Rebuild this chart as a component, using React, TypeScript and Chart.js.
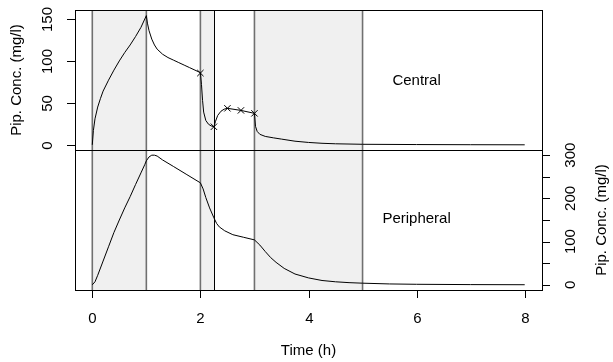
import React, { useEffect, useRef } from "react";
import { Chart, registerables } from "chart.js";

Chart.register(...registerables);

// ---- Data ----
const centralTime = [0, 0.02, 0.05, 0.1, 0.15, 0.2, 0.3, 0.4, 0.5, 0.6, 0.7, 0.8, 0.9, 1.0,
  1.02, 1.05, 1.1, 1.15, 1.2, 1.3, 1.4, 1.5, 1.6, 1.7, 1.8, 1.9, 2.0,
  2.02, 2.04, 2.06, 2.1, 2.15, 2.2, 2.25, 2.28, 2.32, 2.38, 2.44, 2.5, 2.75, 3.0,
  3.02, 3.05, 3.1, 3.2, 3.35, 3.5, 3.75, 4.0, 4.25, 4.5, 5.0, 6.0, 7.0, 8.0];
const centralConc = [0, 17, 31, 45, 55, 64, 77, 89, 100, 110, 119, 129, 140, 154,
  145, 136, 126, 119, 114, 108, 104, 101, 98, 95, 92, 89, 86,
  72, 53, 39, 29, 24.5, 22.5, 21.5, 28, 35, 40, 42.5, 43.5, 41, 37.5,
  22, 16, 12.5, 10, 8.3, 6.8, 4.3, 2.8, 1.8, 1.2, 0.6, 0.3, 0.1, 0];

const periphTime = [0, 0.05, 0.1, 0.2, 0.3, 0.4, 0.5, 0.6, 0.7, 0.8, 0.9, 0.97, 1.0, 1.05, 1.1, 1.15, 1.2, 1.3,
  1.5, 1.75, 2.0, 2.05, 2.1, 2.17, 2.25, 2.3, 2.35, 2.45, 2.6, 2.8, 3.0,
  3.1, 3.2, 3.3, 3.4, 3.55, 3.75, 4.0, 4.25, 4.5, 4.75, 5.0, 5.5, 6.0, 7.0, 8.0];
const periphConc = [0, 7, 22, 55, 88, 121, 150, 178, 204, 232, 259, 278, 287, 296, 300, 300, 298, 289,
  274, 255, 236, 222, 202, 178, 155, 142, 134, 125, 116, 110, 104,
  92, 77, 63, 52, 38, 25, 16, 10, 7, 5, 3.8, 2, 1.2, 0.5, 0.2];

const sampleTime = [2, 2.25, 2.5, 2.75, 3];
const sampleConc = [85.5, 21.5, 43.5, 41, 37.5];

const xTicks = [0, 2, 4, 6, 8];
const centralTicks = [0, 50, 100, 150];
const periphTicks = [0, 50, 100, 150, 200, 250, 300];
const periphLabelTicks = [0, 100, 200, 300];

const shadedPeriods = [[0, 1], [2, 2.25], [3, 5]];
const grayLines = [0, 1, 2, 3, 5];
const blackLines = [2.25];

const xRange = [-0.32, 8.32];
const centralRange = [-6.2, 160.7];
const periphRange = [-12, 312];

const centralText = { x: 6, y: 76, label: "Central" };
const periphText = { x: 6, y: 152, label: "Peripheral" };

const FONT = "15px 'Liberation Sans', Arial, Helvetica, sans-serif";

const decorPlugin = {
  id: "decor",
  beforeDatasetsDraw(chart: any) {
    const { ctx, chartArea: a, scales } = chart;
    const xs = scales.x;
    const yc = scales.yc;
    ctx.save();
    ctx.fillStyle = "#f0f0f0";
    shadedPeriods.forEach(([s, e]) => {
      const x1 = xs.getPixelForValue(s);
      const x2 = xs.getPixelForValue(e);
      ctx.fillRect(x1, a.top, x2 - x1, a.bottom - a.top);
    });
    ctx.strokeStyle = "#707070";
    ctx.lineWidth = 1.6;
    grayLines.forEach((v) => {
      const x = xs.getPixelForValue(v);
      ctx.beginPath();
      ctx.moveTo(x, a.top);
      ctx.lineTo(x, a.bottom);
      ctx.stroke();
    });
    ctx.strokeStyle = "#000";
    ctx.lineWidth = 1;
    blackLines.forEach((v) => {
      const x = Math.round(xs.getPixelForValue(v)) + 0.5;
      ctx.beginPath();
      ctx.moveTo(x, a.top);
      ctx.lineTo(x, a.bottom);
      ctx.stroke();
    });
    const yd = Math.round(yc.getPixelForValue(centralRange[0])) + 0.5;
    ctx.beginPath();
    ctx.moveTo(a.left, yd);
    ctx.lineTo(a.right, yd);
    ctx.stroke();
    ctx.restore();
  },
  afterDatasetsDraw(chart: any) {
    const { ctx, chartArea: a, scales } = chart;
    const xs = scales.x;
    const yc = scales.yc;
    const yp = scales.yp;
    const tl = 8;
    ctx.save();
    ctx.strokeStyle = "#000";
    ctx.lineWidth = 1;
    ctx.strokeRect(Math.round(a.left) + 0.5, Math.round(a.top) + 0.5,
      Math.round(a.right - a.left), Math.round(a.bottom - a.top));
    ctx.fillStyle = "#000";
    ctx.font = FONT;
    ctx.textAlign = "center";
    ctx.textBaseline = "middle";
    // x axis
    xTicks.forEach((v) => {
      const x = Math.round(xs.getPixelForValue(v)) + 0.5;
      ctx.beginPath();
      ctx.moveTo(x, a.bottom);
      ctx.lineTo(x, a.bottom + tl);
      ctx.stroke();
      ctx.fillText(String(v), x, a.bottom + 29);
    });
    ctx.fillText("Time (h)", (a.left + a.right) / 2, a.bottom + 61);
    // left axis (central)
    centralTicks.forEach((v) => {
      const y = Math.round(yc.getPixelForValue(v)) + 0.5;
      ctx.beginPath();
      ctx.moveTo(a.left, y);
      ctx.lineTo(a.left - tl, y);
      ctx.stroke();
      ctx.save();
      ctx.translate(a.left - 27, y);
      ctx.rotate(-Math.PI / 2);
      ctx.fillText(String(v), 0, 0);
      ctx.restore();
    });
    const divY = yc.getPixelForValue(centralRange[0]);
    ctx.save();
    ctx.translate(a.left - 58, (a.top + divY) / 2);
    ctx.rotate(-Math.PI / 2);
    ctx.fillText("Pip. Conc. (mg/l)", 0, 0);
    ctx.restore();
    // right axis (peripheral)
    periphTicks.forEach((v) => {
      const y = Math.round(yp.getPixelForValue(v)) + 0.5;
      ctx.beginPath();
      ctx.moveTo(a.right, y);
      ctx.lineTo(a.right + tl, y);
      ctx.stroke();
    });
    periphLabelTicks.forEach((v) => {
      const y = yp.getPixelForValue(v);
      ctx.save();
      ctx.translate(a.right + 29, y);
      ctx.rotate(-Math.PI / 2);
      ctx.fillText(String(v), 0, 0);
      ctx.restore();
    });
    ctx.save();
    ctx.translate(a.right + 60, (divY + a.bottom) / 2);
    ctx.rotate(-Math.PI / 2);
    ctx.fillText("Pip. Conc. (mg/l)", 0, 0);
    ctx.restore();
    // panel labels
    ctx.fillText(centralText.label, xs.getPixelForValue(centralText.x), yc.getPixelForValue(centralText.y));
    ctx.fillText(periphText.label, xs.getPixelForValue(periphText.x), yp.getPixelForValue(periphText.y));
    ctx.restore();
  },
};

export default function App() {
  const ref = useRef<HTMLCanvasElement | null>(null);
  useEffect(() => {
    document.body.style.margin = "0";
    const cSpan = centralRange[1] - centralRange[0];
    const pSpan = periphRange[1] - periphRange[0];
    const chart = new Chart(ref.current as HTMLCanvasElement, {
      type: "line",
      data: {
        datasets: [
          {
            label: "Central",
            data: centralTime.map((t, i) => ({ x: t, y: centralConc[i] })),
            xAxisID: "x",
            yAxisID: "yc",
            borderColor: "#000",
            borderWidth: 1,
            pointRadius: 0,
            tension: 0,
            fill: false,
          },
          {
            label: "Samples",
            data: sampleTime.map((t, i) => ({ x: t, y: sampleConc[i] })),
            xAxisID: "x",
            yAxisID: "yc",
            showLine: false,
            pointStyle: "crossRot",
            pointRadius: 4.5,
            borderColor: "#000",
            backgroundColor: "#000",
            pointBorderWidth: 1,
          },
          {
            label: "Peripheral",
            data: periphTime.map((t, i) => ({ x: t, y: periphConc[i] })),
            xAxisID: "x",
            yAxisID: "yp",
            borderColor: "#000",
            borderWidth: 1,
            pointRadius: 0,
            tension: 0,
            fill: false,
          },
        ],
      },
      options: {
        responsive: false,
        animation: false,
        events: [],
        layout: { padding: { left: 75, right: 71, top: 10, bottom: 72 } },
        plugins: { legend: { display: false }, tooltip: { enabled: false } },
        scales: {
          x: { type: "linear", min: xRange[0], max: xRange[1], display: false },
          yc: { type: "linear", min: centralRange[0] - cSpan, max: centralRange[1], display: false },
          yp: { type: "linear", min: periphRange[0], max: periphRange[1] + pSpan, display: false },
        },
      },
      plugins: [decorPlugin],
    } as any);
    return () => chart.destroy();
  }, []);
  return (
    <div style={{ position: "absolute", left: 0, top: 0, width: 613, height: 362, background: "#fff" }}>
      <canvas ref={ref} width={613} height={362} style={{ display: "block" }} />
    </div>
  );
}
